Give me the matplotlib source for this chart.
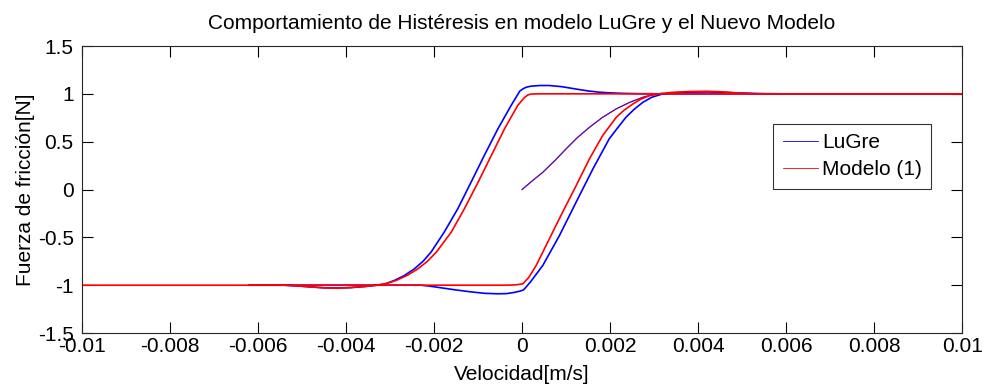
import matplotlib
matplotlib.use("Agg")
import matplotlib.pyplot as plt

plt.rcParams["font.family"] = ["Liberation Sans", "DejaVu Sans"]

# LuGre (blue) branches
lugre_up_v = [0.01, 0.006, 0.0032, 0.0026, 0.00229, 0.002, 0.00176, 0.0015, 0.00123,
              0.0009, 0.00062, 0.0004, 0.0002, 0.0001, 0.00003, -0.00005,
              -0.00025, -0.00055, -0.00086, -0.00116, -0.00146, -0.00177, -0.00207,
              -0.00225, -0.00245, -0.00268, -0.0029, -0.0031, -0.0033, -0.0036,
              -0.0039, -0.0042, -0.0045, -0.0048, -0.0051, -0.0054, -0.0062]
lugre_up_f = [1.0, 1.0, 1.0, 1.002, 1.005, 1.01, 1.017, 1.03, 1.05,
              1.075, 1.087, 1.087, 1.08, 1.07, 1.055, 1.03,
              0.878, 0.634, 0.355, 0.076, -0.20, -0.446, -0.655,
              -0.75, -0.83, -0.90, -0.95, -0.985, -1.0, -1.015,
              -1.025, -1.03, -1.027, -1.018, -1.008, -1.0, -1.0]
lugre_dn_v = [-0.0062, -0.0023, -0.0021, -0.0018, -0.0015, -0.00116, -0.00085, -0.00055,
              -0.00035, -0.00017, -0.00005, 0.00003, 0.00009, 0.0002, 0.00047, 0.00085,
              0.00123, 0.00161, 0.00198, 0.00218, 0.00236, 0.00255, 0.00274, 0.00295,
              0.0032, 0.0035, 0.0038, 0.0042, 0.0046, 0.005, 0.0055, 0.006, 0.01]
lugre_dn_f = [-1.0, -1.0, -1.01, -1.03, -1.05, -1.07, -1.085, -1.09,
              -1.088, -1.075, -1.062, -1.05, -1.02, -0.96, -0.794, -0.48,
              -0.13, 0.216, 0.53, 0.65, 0.755, 0.84, 0.91, 0.965,
              1.0, 1.012, 1.018, 1.02, 1.016, 1.008, 1.002, 1.0, 1.0]

# Modelo (1) (red) branches
model_up_v = [0.01, 0.006, 0.003, 0.0004, 0.0002, 0.00013, 0.00005, -0.0001, -0.0004,
              -0.0007, -0.001, -0.00131, -0.00161, -0.00195, -0.00215, -0.00237,
              -0.0026, -0.00286, -0.0031, -0.0033, -0.0036, -0.0039, -0.0042,
              -0.0045, -0.0048, -0.0051, -0.0054, -0.0062, -0.01]
model_up_f = [1.0, 1.0, 1.0, 1.0, 0.998, 0.988, 0.96, 0.878, 0.634,
              0.355, 0.076, -0.20, -0.446, -0.655, -0.75, -0.83,
              -0.895, -0.95, -0.985, -1.0, -1.015, -1.025, -1.032,
              -1.028, -1.018, -1.008, -1.0, -1.0, -1.0]
model_dn_v = [-0.0062, -0.0004, -0.0002, -0.0001, 0.00002, 0.00015, 0.00032, 0.00062,
              0.00092, 0.00123, 0.00153, 0.00183, 0.00214, 0.00232, 0.00252, 0.0027,
              0.00289, 0.0031, 0.0034, 0.0038, 0.0042, 0.0045, 0.0048, 0.0053, 0.006, 0.01]
model_dn_f = [-1.0, -1.0, -0.998, -0.994, -0.985, -0.92, -0.794, -0.515,
              -0.237, 0.042, 0.32, 0.564, 0.755, 0.83, 0.895, 0.945,
              0.98, 1.0, 1.015, 1.024, 1.027, 1.022, 1.012, 1.0, 1.0, 1.0]

# initial (virgin) curve, shared by both models
init_v = [0.0, 0.00023, 0.00047, 0.00075, 0.001, 0.00125, 0.00153, 0.00183,
          0.00214, 0.00244, 0.00274, 0.003, 0.0032]
init_f = [0.0, 0.09, 0.18, 0.305, 0.425, 0.54, 0.65, 0.755,
          0.843, 0.91, 0.964, 0.995, 1.005]

xticks = [-0.01, -0.008, -0.006, -0.004, -0.002, 0, 0.002, 0.004, 0.006, 0.008, 0.01]
xtick_labels = ["-0.01", "-0.008", "-0.006", "-0.004", "-0.002", "0",
                "0.002", "0.004", "0.006", "0.008", "0.01"]
yticks = [-1.5, -1, -0.5, 0, 0.5, 1, 1.5]
ytick_labels = ["-1.5", "-1", "-0.5", "0", "0.5", "1", "1.5"]

fig = plt.figure(figsize=(9.89, 3.85), dpi=100)
ax = fig.add_axes([0.0829, 0.135, 0.89, 0.7455])

blue = "#0000ff"
red = "#ff0000"
lw = 1.2
ax.plot(lugre_up_v, lugre_up_f, color=blue, lw=lw, label="LuGre")
ax.plot(lugre_dn_v, lugre_dn_f, color=blue, lw=lw)
ax.plot(init_v, init_f, color=blue, lw=0.9)
ax.plot(model_up_v, model_up_f, color=red, lw=lw, label="Modelo (1)")
ax.plot(model_dn_v, model_dn_f, color=red, lw=lw)
ax.plot(init_v, init_f, color=red, lw=0.6, alpha=0.6)

ax.set_xlim(-0.01, 0.01)
ax.set_ylim(-1.5, 1.5)
ax.set_xticks(xticks)
ax.set_xticklabels(xtick_labels)
ax.set_yticks(yticks)
ax.set_yticklabels(ytick_labels)
ax.tick_params(direction="in", length=8, width=0.8, labelsize=15,
               top=True, right=True, pad=3)
ax.tick_params(axis="y", pad=6)
for s in ax.spines.values():
    s.set_linewidth(0.8)
    s.set_color("#262626")

ax.set_title("Comportamiento de Histéresis en modelo LuGre y el Nuevo Modelo",
             fontsize=15, pad=12)
ax.set_xlabel("Velocidad[m/s]", fontsize=15, labelpad=6)
ax.set_ylabel("Fuerza de fricción[N]", fontsize=15, labelpad=2)

leg = ax.legend(loc="upper right", bbox_to_anchor=(0.965, 0.728), fontsize=15,
                frameon=True, fancybox=False, handlelength=1.7, handletextpad=0.2,
                borderpad=0.45, labelspacing=0.38, borderaxespad=0)
leg.get_frame().set_edgecolor("black")
leg.get_frame().set_linewidth(0.8)
for h in leg.get_lines():
    h.set_linewidth(0.6)

fig.savefig("out.png", dpi=100)
